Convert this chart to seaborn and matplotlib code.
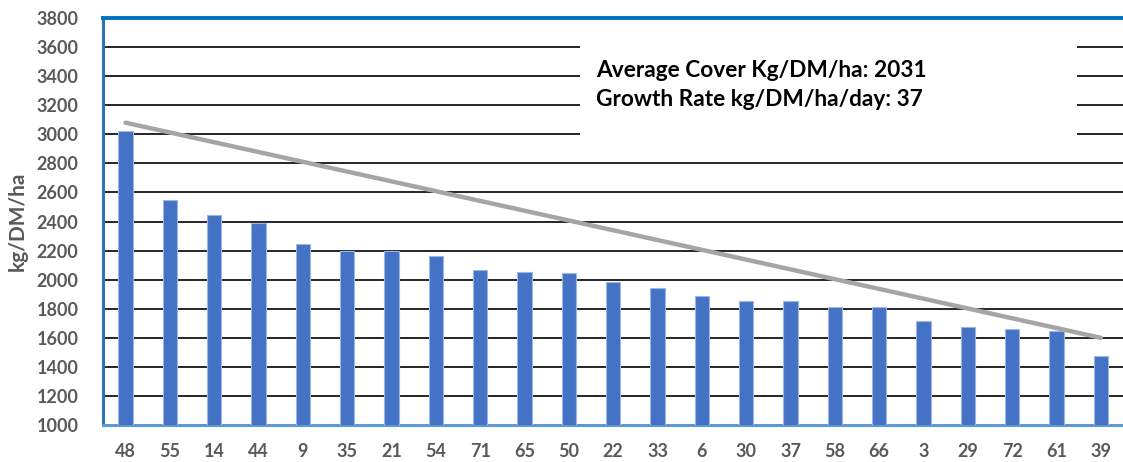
import numpy as np
import pandas as pd
import matplotlib
matplotlib.use('Agg')
import matplotlib.pyplot as plt
import seaborn as sns
from matplotlib.ticker import MultipleLocator
from matplotlib.patches import Rectangle

# Paddock covers, sorted high to low (feed wedge)
paddocks = ['48', '55', '14', '44', '9', '35', '21', '54', '71', '65', '50', '22',
            '33', '6', '30', '37', '58', '66', '3', '29', '72', '61', '39']
covers = [3020, 2545, 2448, 2393, 2248, 2195, 2195, 2165, 2065, 2053, 2045, 1985,
          1943, 1885, 1855, 1855, 1814, 1814, 1717, 1673, 1659, 1645, 1478]

# target wedge line (pre-grazing target -> residual)
target_start = 3080
target_end = 1600

avg_cover = 2031
growth_rate = 37

df = pd.DataFrame({'paddock': paddocks, 'cover': covers})

sns.set_style('white')
plt.rcParams['font.family'] = ['Lato', 'DejaVu Sans']

fig = plt.figure(figsize=(11.23, 4.62), dpi=100)
ax = fig.add_axes([0.092, 0.080, 0.908, 0.881])

ax.yaxis.grid(True, color='black', linewidth=1.2, zorder=0)
ax.set_axisbelow(True)

sns.barplot(data=df, x='paddock', y='cover', order=paddocks, color='#4472C4',
            saturation=1, width=0.32, edgecolor='#9DB6E3', linewidth=0.8,
            ax=ax, zorder=3)

# white box behind the summary text (hides gridlines there)
ax.add_patch(Rectangle((0.467, 0.68), 0.488, 0.30, transform=ax.transAxes,
                       facecolor='white', edgecolor='none', zorder=2))

idx = np.arange(len(paddocks))
ax.plot(idx[[0, -1]], [target_start, target_end], color='#A5A5A5',
        linewidth=3.2, solid_capstyle='round', zorder=4)

ax.text(0.483, 0.872, f'Average Cover Kg/DM/ha: {avg_cover}', transform=ax.transAxes,
        fontsize=16.3, fontweight='bold', color='black', va='center', zorder=5)
ax.text(0.483, 0.799, f'Growth Rate kg/DM/ha/day: {growth_rate}', transform=ax.transAxes,
        fontsize=16.3, fontweight='bold', color='black', va='center', zorder=5)

ax.set_ylim(1000, 3800)
ax.set_xlim(-0.5, len(paddocks) - 0.5)
ax.yaxis.set_major_locator(MultipleLocator(200))
ax.yaxis.set_minor_locator(MultipleLocator(50))

ax.set_xlabel('')
ax.set_ylabel('kg/DM/ha', fontsize=15, fontweight='bold', color='#595959', labelpad=6)

ax.tick_params(axis='y', which='both', direction='in', color='#2E75B6', width=1.2,
               length=4, pad=18, labelsize=13, labelcolor='#595959')
ax.tick_params(axis='x', length=0, pad=13, labelsize=13, labelcolor='#595959')
for lab in ax.get_xticklabels() + ax.get_yticklabels():
    lab.set_fontweight('bold')

ax.spines['right'].set_visible(False)
ax.spines['top'].set_color('#0070C0')
ax.spines['top'].set_linewidth(2.8)
ax.spines['left'].set_color('#2E75B6')
ax.spines['left'].set_linewidth(2.2)
ax.spines['bottom'].set_color('#5B9BD5')
ax.spines['bottom'].set_linewidth(2.2)

fig.savefig('out.png', dpi=100)
